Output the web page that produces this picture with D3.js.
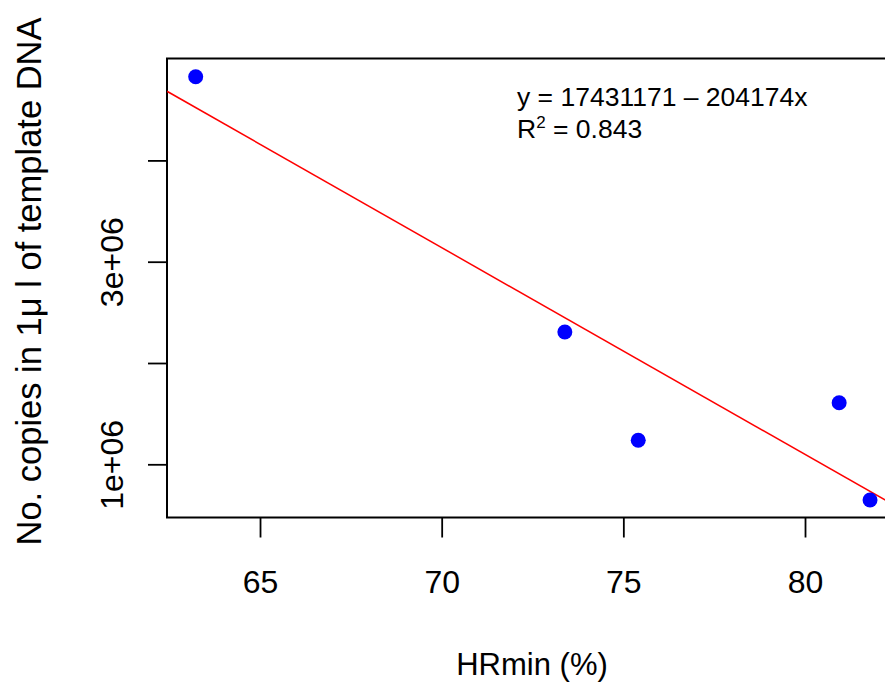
<!DOCTYPE html>
<html>
<head>
<meta charset="utf-8">
<script src="https://cdn.jsdelivr.net/npm/d3@7"></script>
<style>
  html, body { margin: 0; padding: 0; background: #fff; }
  svg { display: block; font-family: "Liberation Sans", Arial, sans-serif; }
</style>
</head>
<body>
<script>
// ---- data ----
const hrmin  = [63.23, 73.39, 75.41, 80.94, 81.79];
const copies = [4826000, 2306000, 1237000, 1608000, 648000];
const xTicks = [65, 70, 75, 80];
const yTicks = [1e6, 2e6, 3e6, 4e6];
const yTickLabels = ["1e+06", "", "3e+06", ""];
const intercept = 17431171;
const slope = -204174;
const eqLines = ["y = 17431171 \u2013 204174x", "R"];
const r2Text = "0.843";
const xTitle = "HRmin (%)";
const yTitle = "No. copies in 1\u03bc l of template DNA";

// ---- layout ----
const W = 885, H = 689;
const mLeft = 167, mRight = 897, mTop = 58.5, mBottom = 517.5;

const svg = d3.select("body").append("svg").attr("width", W).attr("height", H);

const x = d3.scaleLinear().domain([62.44, 82.532]).range([mLeft, mRight]);
const y = d3.scaleLinear().domain([474800, 5006000]).range([mBottom, mTop]);

svg.append("defs").append("clipPath").attr("id", "plotclip")
  .append("rect").attr("x", mLeft).attr("y", mTop).attr("width", mRight - mLeft).attr("height", mBottom - mTop);

// axes
const xAxis = d3.axisBottom(x).tickValues(xTicks).tickSize(20).tickPadding(10).tickFormat(d3.format("d"));
const gx = svg.append("g").attr("transform", `translate(0,${mBottom})`).call(xAxis);
gx.select(".domain").remove();
gx.selectAll(".tick line").attr("stroke", "#000").attr("stroke-width", 1.8);
gx.selectAll(".tick text").attr("fill", "#000").attr("font-size", 32)
  .attr("dy", null).attr("y", 75.5);

const yAxis = d3.axisLeft(y).tickValues(yTicks).tickSize(19).tickFormat((d, i) => yTickLabels[i]);
const gy = svg.append("g").attr("transform", `translate(${mLeft},0)`).call(yAxis);
gy.select(".domain").remove();
gy.selectAll(".tick line").attr("stroke", "#000").attr("stroke-width", 1.8);
gy.selectAll(".tick text").attr("fill", "#000").attr("font-size", 32)
  .attr("x", null).attr("dy", null)
  .attr("text-anchor", "middle")
  .attr("transform", "translate(-44,0) rotate(-90)");

// box
svg.append("rect").attr("x", mLeft).attr("y", mTop)
  .attr("width", mRight - mLeft).attr("height", mBottom - mTop)
  .attr("fill", "none").attr("stroke", "#000").attr("stroke-width", 2);

// regression line
const plotG = svg.append("g").attr("clip-path", "url(#plotclip)");
const xd = x.domain();
plotG.append("line")
  .attr("x1", x(xd[0])).attr("y1", y(intercept + slope * xd[0]))
  .attr("x2", x(xd[1])).attr("y2", y(intercept + slope * xd[1]))
  .attr("stroke", "#ff0000").attr("stroke-width", 1.5);

// points
plotG.selectAll("circle").data(hrmin).join("circle")
  .attr("cx", d => x(d)).attr("cy", (d, i) => y(copies[i]))
  .attr("r", 7.5).attr("fill", "#0000ff");

// equation text
svg.append("text").attr("x", 517).attr("y", 106).attr("font-size", 26.5).attr("fill", "#000")
  .text(eqLines[0]);
const t2 = svg.append("text").attr("x", 517).attr("y", 138).attr("font-size", 26.5).attr("fill", "#000");
t2.append("tspan").text(eqLines[1]);
t2.append("tspan").attr("font-size", 17).attr("dy", -10).text("2");
t2.append("tspan").attr("dy", 10).text(" = " + r2Text);

// axis titles
svg.append("text").attr("x", (mLeft + mRight) / 2).attr("y", 675).attr("text-anchor", "middle")
  .attr("font-size", 31).attr("fill", "#000").text(xTitle);
svg.append("text").attr("transform", `translate(41,${(15 + 548) / 2}) rotate(-90)`)
  .attr("text-anchor", "middle").attr("font-size", 34.5).attr("fill", "#000").text(yTitle);
</script>
</body>
</html>
